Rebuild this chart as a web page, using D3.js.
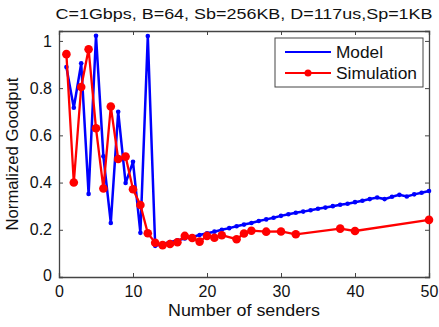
<!DOCTYPE html>
<html>
<head>
<meta charset="utf-8">
<script src="https://cdn.jsdelivr.net/npm/d3@7"></script>
<style>
  body { margin: 0; background: #fff; }
  text { font-family: Arial, "Liberation Sans", sans-serif; fill: #111; }
</style>
</head>
<body>
<div id="chart"></div>
<script>
// data
const modelX = d3.range(1, 51);
const modelY = [0.889, 0.717, 0.905, 0.352, 1.022, 0.511, 0.229, 0.70, 0.398, 0.488,
  0.187, 1.021, 0.132, 0.14, 0.148, 0.155, 0.163, 0.17, 0.178, 0.185,
  0.192, 0.2, 0.207, 0.215, 0.222, 0.229, 0.237, 0.244, 0.251, 0.259,
  0.266, 0.272, 0.277, 0.283, 0.289, 0.294, 0.3, 0.306, 0.31, 0.317,
  0.323, 0.33, 0.337, 0.33, 0.34, 0.348, 0.341, 0.35, 0.357, 0.364];
const simX = [1, 2, 3, 4, 5, 6, 7, 8, 9, 10, 11, 12, 13, 14, 15, 16, 17, 18, 19, 20, 21, 22,
  24, 25, 26, 28, 30, 32, 38, 40, 50];
const simY = [0.944, 0.40, 0.805, 0.965, 0.63, 0.375, 0.722, 0.50, 0.51, 0.372, 0.305,
  0.185, 0.145, 0.135, 0.14, 0.147, 0.174, 0.165, 0.15, 0.174, 0.166, 0.177,
  0.16, 0.184, 0.196, 0.192, 0.193, 0.181, 0.205, 0.195, 0.242];
const xTicks = [0, 10, 20, 30, 40, 50];
const yTicks = [0, 0.2, 0.4, 0.6, 0.8, 1];
const seriesNames = ["Model", "Simulation"];
const title = "C=1Gbps, B=64, Sb=256KB, D=117us,Sp=1KB";

const W = 439, H = 327;
const margin = { top: 31, right: 10, bottom: 50, left: 59 };
const width = W - margin.left - margin.right;
const height = H - margin.top - margin.bottom;

const svg = d3.select("#chart").append("svg")
  .attr("width", W).attr("height", H);

const g = svg.append("g")
  .attr("transform", `translate(${margin.left}, ${margin.top})`);

const x = d3.scaleLinear().domain([0, 50]).range([0, width]);
const y = d3.scaleLinear().domain([0, 1.042]).range([height, 0]);

// axes, matlab style ticks pointing inward
const axisColor = "#444";
const fmt = d => (d === 0 || d === 1) ? d3.format("d")(d) : d3.format(".1f")(d);

const xAxis = g.append("g").attr("transform", `translate(0, ${height})`)
  .call(d3.axisBottom(x).tickValues(xTicks).tickSize(-4).tickPadding(9).tickFormat(d3.format("d")));
const xTop = g.append("g")
  .call(d3.axisTop(x).tickValues(xTicks).tickSize(-4).tickFormat(""));
const yAxis = g.append("g")
  .call(d3.axisLeft(y).tickValues(yTicks).tickSize(-4).tickPadding(7).tickFormat(fmt));
const yRight = g.append("g").attr("transform", `translate(${width}, 0)`)
  .call(d3.axisRight(y).tickValues(yTicks).tickSize(-4).tickFormat(""));

[xAxis, xTop, yAxis, yRight].forEach(a => {
  a.selectAll("path.domain").attr("stroke", axisColor).attr("stroke-width", 1.3);
  a.selectAll(".tick line").attr("stroke", axisColor).attr("stroke-width", 1);
  a.selectAll(".tick text").style("font-size", "16px").attr("fill", "#111")
    .style("font-family", "Arial, 'Liberation Sans', sans-serif");
});
// the "0" of y axis sits a little lower in the original
yAxis.selectAll(".tick").filter(d => d === 0).select("text").attr("dy", "0.2em");
xAxis.selectAll(".tick").filter(d => d === 0 || d === 50).select("line").remove();
yAxis.selectAll(".tick").filter(d => d === 0).select("line").remove();

// lines
const line = d3.line().x(d => x(d[0])).y(d => y(d[1]));
const modelData = modelX.map((d, i) => [d, modelY[i]]);
const simData = simX.map((d, i) => [d, simY[i]]);

g.append("path").datum(modelData)
  .attr("fill", "none").attr("stroke", "#0000ff").attr("stroke-width", 2.5)
  .attr("d", line);
g.selectAll(".mdot").data(modelData).enter().append("circle")
  .attr("class", "mdot")
  .attr("cx", d => x(d[0])).attr("cy", d => y(d[1])).attr("r", 2.3)
  .attr("fill", "#0000ff");

g.append("path").datum(simData)
  .attr("fill", "none").attr("stroke", "#ff0000").attr("stroke-width", 2.3)
  .attr("d", line);
g.selectAll(".sdot").data(simData).enter().append("circle")
  .attr("class", "sdot")
  .attr("cx", d => x(d[0])).attr("cy", d => y(d[1])).attr("r", 4.3)
  .attr("fill", "#ff0000");

// legend
const legend = svg.append("g").attr("transform", "translate(275, 38)");
legend.append("rect").attr("width", 148).attr("height", 49)
  .attr("fill", "#fff").attr("stroke", axisColor).attr("stroke-width", 1);
const colors = ["#0000ff", "#ff0000"];
const legendWidths = [47, 81];
seriesNames.forEach((name, i) => {
  const ly = 14 + i * 21;
  legend.append("line").attr("x1", 10).attr("x2", 56).attr("y1", ly).attr("y2", ly)
    .attr("stroke", colors[i]).attr("stroke-width", 2.2);
  if (i === 1) {
    legend.append("circle").attr("cx", 33).attr("cy", ly).attr("r", 3.5).attr("fill", colors[i]);
  }
  legend.append("text").attr("x", 61).attr("y", ly).attr("dy", "0.36em")
    .attr("textLength", legendWidths[i]).attr("lengthAdjust", "spacingAndGlyphs")
    .style("font-size", "16px").text(name);
});

// titles
svg.append("text").attr("x", 244).attr("y", 19).attr("text-anchor", "middle")
  .attr("textLength", 377).attr("lengthAdjust", "spacingAndGlyphs")
  .style("font-size", "15px").text(title);
svg.append("text").attr("x", 244).attr("y", 316).attr("text-anchor", "middle")
  .attr("textLength", 152).attr("lengthAdjust", "spacingAndGlyphs")
  .style("font-size", "16px").text("Number of senders");
svg.append("text").attr("transform", "translate(18, 154) rotate(-90)")
  .attr("text-anchor", "middle").attr("textLength", 153).attr("lengthAdjust", "spacingAndGlyphs")
  .style("font-size", "16px").text("Normalized Goodput");
</script>
</body>
</html>
